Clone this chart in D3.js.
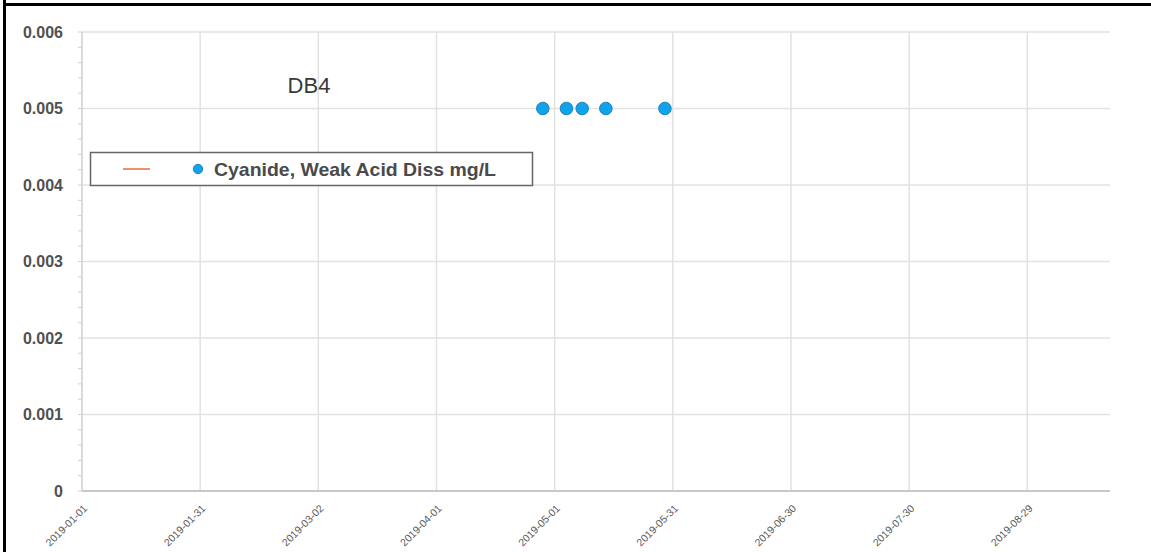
<!DOCTYPE html>
<html>
<head>
<meta charset="utf-8">
<script src="https://cdn.jsdelivr.net/npm/d3@7"></script>
<style>
  html, body { margin: 0; padding: 0; background: #fff; }
  svg { display: block; font-family: "Liberation Sans", Arial, sans-serif; }
</style>
</head>
<body>
<svg id="chart" width="1151" height="552"></svg>
<script>
// Sample results for station DB4
const sampleDates = ["2019-04-28", "2019-05-04", "2019-05-08", "2019-05-14", "2019-05-29"];
const cyanideValues = [0.005, 0.005, 0.005, 0.005, 0.005];
const seriesName = "Cyanide, Weak Acid Diss mg/L";
const chartTitle = "DB4";
const xTickDates = ["2019-01-01", "2019-01-31", "2019-03-02", "2019-04-01", "2019-05-01",
                    "2019-05-31", "2019-06-30", "2019-07-30", "2019-08-29"];
const yTickValues = [0, 0.001, 0.002, 0.003, 0.004, 0.005, 0.006];
const yTickLabels = ["0", "0.001", "0.002", "0.003", "0.004", "0.005", "0.006"];
const xDomain = ["2019-01-01", "2019-09-19"];

const parse = d3.utcParse("%Y-%m-%d");
const svg = d3.select("#chart");

const x = d3.scaleUtc().domain(xDomain.map(parse)).range([82, 1110]);
const y = d3.scaleLinear().domain([0, 0.006]).range([491, 32]);

// frame lines (top and left)
svg.append("rect").attr("x", 3).attr("y", 0).attr("width", 3).attr("height", 552).attr("fill", "#000");
svg.append("rect").attr("x", 3).attr("y", 3).attr("width", 1148).attr("height", 3).attr("fill", "#000");

// horizontal gridlines
svg.append("g")
  .selectAll("line")
  .data(yTickValues.slice(1))
  .join("line")
  .attr("x1", x.range()[0]).attr("x2", x.range()[1])
  .attr("y1", d => y(d)).attr("y2", d => y(d))
  .attr("stroke", "#e2e2e2").attr("stroke-width", 1.5);

// vertical gridlines
svg.append("g")
  .selectAll("line")
  .data(xTickDates.map(parse))
  .join("line")
  .attr("x1", d => x(d)).attr("x2", d => x(d))
  .attr("y1", y(0.006)).attr("y2", y(0))
  .attr("stroke", "#e2e2e2").attr("stroke-width", 1.5);

// minor ticks on the value axis
const minor = d3.range(0, 0.00601, 0.0002);
svg.append("g")
  .selectAll("line")
  .data(minor)
  .join("line")
  .attr("x1", x.range()[0] - 4).attr("x2", x.range()[0])
  .attr("y1", d => y(d)).attr("y2", d => y(d))
  .attr("stroke", "#d0d0d0").attr("stroke-width", 1);

// x axis baseline
svg.append("line")
  .attr("x1", x.range()[0]).attr("x2", x.range()[1])
  .attr("y1", y(0)).attr("y2", y(0))
  .attr("stroke", "#c8c8c8").attr("stroke-width", 2);

// y axis line
svg.append("line")
  .attr("x1", x.range()[0]).attr("x2", x.range()[0])
  .attr("y1", y(0.006)).attr("y2", y(0))
  .attr("stroke", "#d4d4d4").attr("stroke-width", 1.5);

// y tick labels
svg.append("g")
  .selectAll("text")
  .data(yTickValues)
  .join("text")
  .attr("x", 63)
  .attr("y", d => y(d))
  .attr("dy", "0.35em")
  .attr("text-anchor", "end")
  .attr("font-size", 16)
  .attr("font-weight", "bold")
  .attr("fill", "#505050")
  .text((d, i) => yTickLabels[i]);

// x tick labels, rotated
svg.append("g")
  .selectAll("text")
  .data(xTickDates)
  .join("text")
  .attr("transform", d => `translate(${x(parse(d)) + 6},${y(0) + 18}) rotate(-45)`)
  .attr("text-anchor", "end")
  .attr("font-size", 10.5)
  .attr("fill", "#5a5a5a")
  .text(d => d);

// title
svg.append("text")
  .attr("x", 309).attr("y", 93)
  .attr("text-anchor", "middle")
  .attr("font-size", 22)
  .attr("fill", "#3a3a3a")
  .text(chartTitle);

// data points
svg.append("g")
  .selectAll("circle")
  .data(sampleDates.map((d, i) => ({ date: parse(d), value: cyanideValues[i] })))
  .join("circle")
  .attr("cx", d => x(d.date))
  .attr("cy", d => y(d.value))
  .attr("r", 6.3)
  .attr("fill", "#0fa3ec")
  .attr("stroke", "#2a7fb8")
  .attr("stroke-width", 1);

// legend
const legend = svg.append("g");
legend.append("rect")
  .attr("x", 90.5).attr("y", 152.5).attr("width", 442).attr("height", 33)
  .attr("fill", "#fff").attr("stroke", "#666").attr("stroke-width", 1.5);
legend.append("line")
  .attr("x1", 123).attr("x2", 150).attr("y1", 169).attr("y2", 169)
  .attr("stroke", "#ec6a34").attr("stroke-width", 1.5);
legend.append("circle")
  .attr("cx", 198).attr("cy", 169).attr("r", 4.7)
  .attr("fill", "#0fa3ec").attr("stroke", "#2a7fb8").attr("stroke-width", 1);
legend.append("text")
  .attr("x", 214).attr("y", 176)
  .attr("font-size", 19)
  .attr("font-weight", "bold")
  .attr("fill", "#4a4a4a")
  .attr("textLength", 282)
  .attr("lengthAdjust", "spacingAndGlyphs")
  .text(seriesName);
</script>
</body>
</html>
